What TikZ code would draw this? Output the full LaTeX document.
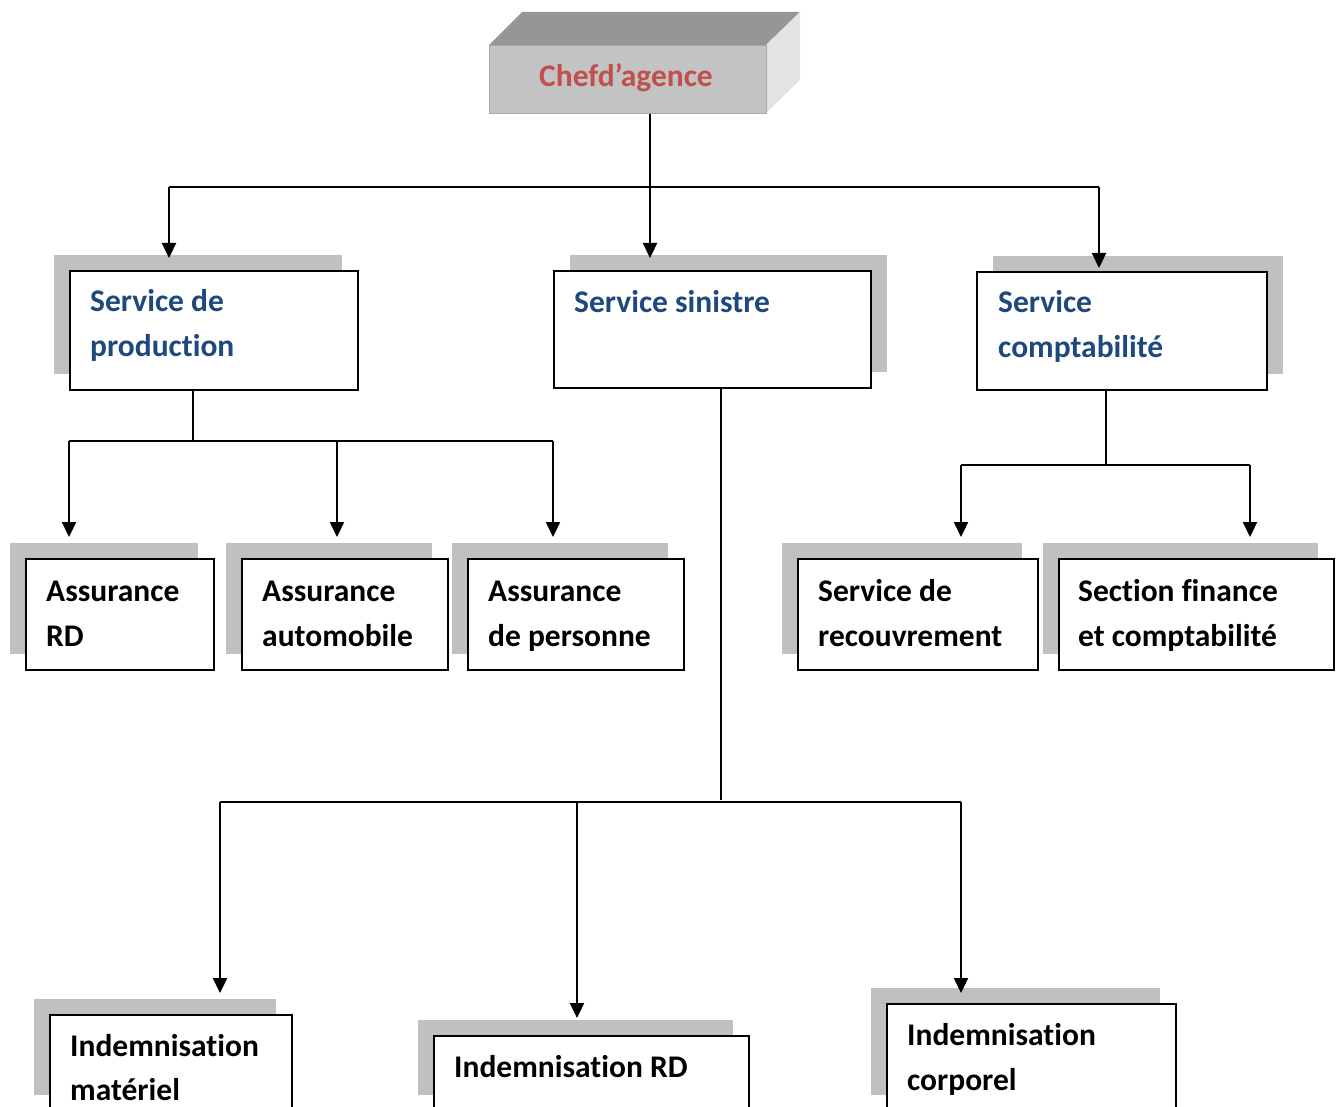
\documentclass[tikz,border=0pt]{standalone}
\usepackage{fontspec}
\setmainfont{Carlito}[RawFeature={-liga;-calt;-clig;-dlig}]
\usetikzlibrary{arrows.meta,shadows}
\definecolor{shd}{HTML}{C0C0C0}
\definecolor{ttl}{HTML}{1F497D}
\definecolor{chefc}{HTML}{C0504D}
\definecolor{ctop}{HTML}{969696}
\definecolor{cfront}{HTML}{C3C3C3}
\definecolor{cside}{HTML}{E3E3E3}
\begin{document}
\begin{tikzpicture}[x=1pt,y=-1pt,
  font=\bfseries\fontsize{31.5}{45}\selectfont,
  box/.style={draw=black, line width=1.6pt, fill=white, inner sep=0pt, anchor=north west,
    general shadow={fill=shd, shadow xshift=-16pt, shadow yshift=16pt}},
  rbox/.style={draw=black, line width=1.6pt, fill=white, inner sep=0pt, anchor=north west,
    general shadow={fill=shd, shadow xshift=16pt, shadow yshift=16pt}},
  conn/.style={line width=2.3pt},
  arr/.style={line width=2.3pt, -{Triangle[width=14pt,length=15pt]}},
  lbl/.style={anchor=base west, inner sep=0pt},
  blbl/.style={lbl, text=ttl},
]
\useasboundingbox (0,0) rectangle (1342,1107);
\clip (0,0) rectangle (1342,1107);

% top 3D box
\fill[ctop] (489,45) -- (522,12) -- (800,12) -- (766,45) -- cycle;
\fill[cside] (766,45) -- (800,12) -- (800,80) -- (766,113) -- cycle;
\node[fill=cfront, draw=cfront!85!black, line width=0.6pt, minimum width=277pt, minimum height=68pt,
  anchor=north west, inner sep=0pt] (chef) at (489,45) {};
\node[text=chefc, inner sep=0pt, anchor=base] (cheft) at (626,87) {Chefd’agence};

% level 2 boxes
\node[box, minimum width=288pt, minimum height=119pt] (prod) at (69,270) {};
\node[rbox, minimum width=317pt, minimum height=117pt] (sin) at (553,270) {};
\node[rbox, minimum width=290pt, minimum height=118pt] (compta) at (976,271) {};

\node[blbl] (prod1) at (90,312) {Service de};
\node[blbl] (prod2) at (90,356) {production};
\node[blbl] (sin1) at (574,313) {Service sinistre};
\node[blbl] (compta1) at (998,313) {Service};
\node[blbl] (compta2) at (998,358) {comptabilité};

% level 3 boxes
\node[box, minimum width=188pt, minimum height=111pt] (ard) at (25,558) {};
\node[box, minimum width=206pt, minimum height=111pt] (aauto) at (241,558) {};
\node[box, minimum width=216pt, minimum height=111pt] (apers) at (467,558) {};
\node[box, minimum width=240pt, minimum height=111pt] (srec) at (797,558) {};
\node[box, minimum width=275pt, minimum height=111pt] (sfin) at (1058,558) {};

\node[lbl] (ard1) at (46,601) {Assurance};
\node[lbl] (ard2) at (46,646) {RD};
\node[lbl] (aauto1) at (262,601) {Assurance};
\node[lbl] (aauto2) at (262,646) {automobile};
\node[lbl] (apers1) at (488,601) {Assurance};
\node[lbl] (apers2) at (488,646) {de personne};
\node[lbl] (srec1) at (818,601) {Service de};
\node[lbl] (srec2) at (818,646) {recouvrement};
\node[lbl] (sfin1) at (1078,601) {Section finance};
\node[lbl] (sfin2) at (1078,646) {et comptabilité};

% bottom boxes
\node[box, minimum width=242pt, minimum height=96pt] (imat) at (49,1014) {};
\node[box, minimum width=315pt, minimum height=75pt] (ird) at (433,1035) {};
\node[box, minimum width=289pt, minimum height=107pt] (icorp) at (886,1003) {};

\node[lbl] (imat1) at (70,1056) {Indemnisation};
\node[lbl] (imat2) at (70,1100) {matériel};
\node[lbl] (ird1) at (454,1077) {Indemnisation RD};
\node[lbl] (icorp1) at (907,1045) {Indemnisation};
\node[lbl] (icorp2) at (907,1090) {corporel};

% connectors: chef -> level 2
\coordinate (hL) at (169,187);
\coordinate (hM) at (650,187);
\coordinate (hR) at (1099,187);
\draw[conn] (hM |- chef.south) -- (hM);
\draw[conn] (hL) -- (hR);
\draw[arr, shorten >=12pt] (hL) -- (hL |- prod.north);
\draw[arr, shorten >=12pt] (hM) -- (hM |- sin.north);
\draw[arr, shorten >=3pt] (hR) -- (hR |- compta.north);

% production -> assurances
\coordinate (pJ) at (193,441);
\coordinate (pL) at (69,441);
\coordinate (pM) at (337,441);
\coordinate (pR) at (553,441);
\draw[conn] (pJ |- prod.south) -- (pJ);
\draw[conn] (pL) -- (pR);
\draw[arr, shorten >=21pt] (pL) -- (pL |- ard.north);
\draw[arr, shorten >=21pt] (pM) -- (pM |- aauto.north);
\draw[arr, shorten >=21pt] (pR) -- (pR |- apers.north);

% comptabilite -> sections
\coordinate (cJ) at (1106,465);
\coordinate (cL) at (961,465);
\coordinate (cR) at (1250,465);
\draw[conn] (cJ |- compta.south) -- (cJ);
\draw[conn] (cL) -- (cR);
\draw[arr, shorten >=21pt] (cL) -- (cL |- srec.north);
\draw[arr, shorten >=21pt] (cR) -- (cR |- sfin.north);

% sinistre -> indemnisations
\coordinate (sJ) at (721,800);
\coordinate (sL) at (220,802);
\coordinate (sM) at (577,802);
\coordinate (sR) at (961,802);
\draw[conn] (sJ |- sin.south) -- (sJ);
\draw[conn] (sL) -- (sR);
\draw[arr, shorten >=21pt] (sL) -- (sL |- imat.north);
\draw[arr, shorten >=17pt] (sM) -- (sM |- ird.north);
\draw[arr, shorten >=10pt] (sR) -- (sR |- icorp.north);
\end{tikzpicture}
\end{document}
